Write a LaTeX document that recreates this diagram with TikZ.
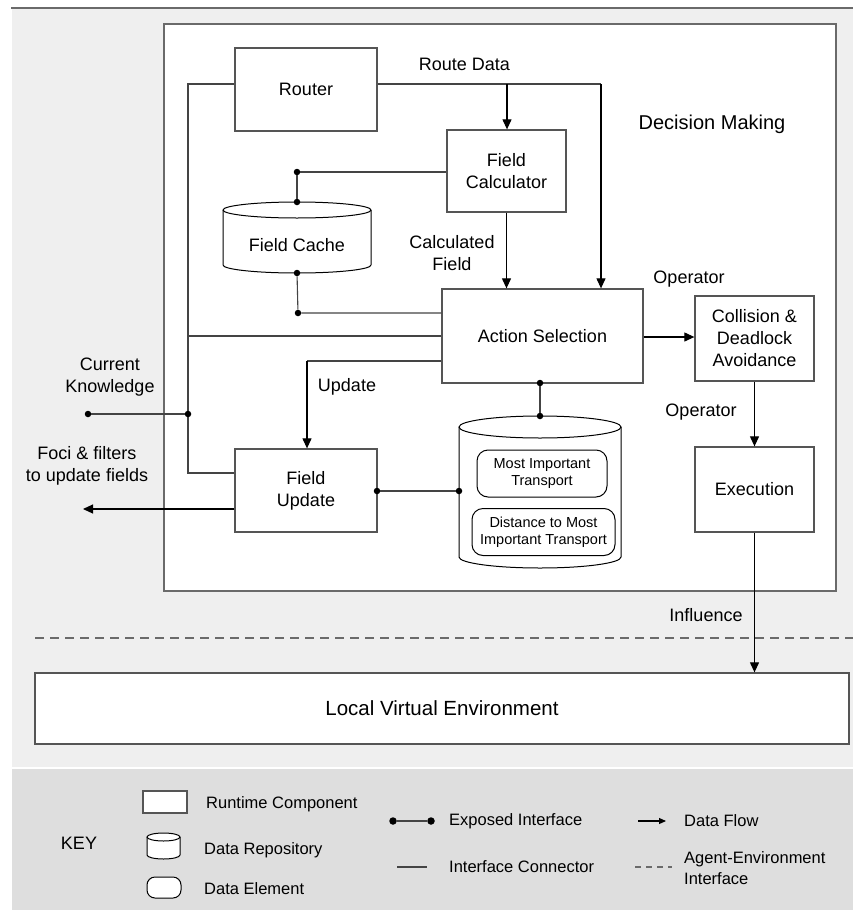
\documentclass[tikz,border=0pt]{standalone}
\usepackage{fontspec}
\setmainfont{Liberation Sans}
\usetikzlibrary{arrows.meta,calc}
\definecolor{bglight}{HTML}{EFEFEF}
\definecolor{bgkey}{HTML}{DEDEDE}
\definecolor{edgec}{HTML}{555555}
\definecolor{wirec}{HTML}{444444}
\definecolor{rulec}{HTML}{6A6A6A}

\tikzset{
  comp/.style={draw=edgec, line width=1.3pt, fill=white, inner sep=0pt, align=center,
               font=\fontsize{18}{22}\selectfont},
  delem/.style={draw=black, line width=1pt, fill=white, rounded corners=11pt, inner sep=0pt,
                align=center, font=\fontsize{14.5}{17}\selectfont},
  cylline/.style={draw=black, line width=1pt},
  wire/.style={draw=wirec, line width=1.1pt},
  flow/.style={draw=black, line width=1.1pt, -{Triangle[length=10pt,width=9pt]}},
  dot/.style={circle, fill=black, inner sep=0pt, minimum size=6.5pt},
  lbl/.style={inner sep=0pt, align=center, font=\fontsize{18}{22}\selectfont},
  keytext/.style={inner sep=0pt, anchor=west, align=left, font=\fontsize{16.5}{21}\selectfont},
}

\begin{document}
\begin{tikzpicture}[x=1pt,y=-1pt]
\useasboundingbox (0,0) rectangle (853,910);

% backgrounds
\fill[bglight] (12,7) rectangle (853,767);
\draw[rulec, line width=2pt] (11,7.5) -- (853,7.5);
\fill[white] (12,767) rectangle (853,769);
\fill[bgkey] (12,769) rectangle (853,910);

% decision making frame
\node[draw=rulec, line width=1.5pt, fill=white, inner sep=0pt,
      minimum width=672pt, minimum height=567pt] (dm) at (500,307.5) {};
\node[lbl, font=\fontsize{20}{24}\selectfont] (dmlabel) at (712,124) {Decision Making};

% runtime components
\node[comp, minimum width=142pt, minimum height=83pt] (router) at (306,89.5) {Router};
\node[comp, minimum width=119pt, minimum height=82pt] (fcalc) at (506.5,171) {Field\\Calculator};
\node[comp, minimum width=201pt, minimum height=94pt] (act) at (542.5,336) {Action Selection};
\node[comp, minimum width=119pt, minimum height=85pt] (coll) at (754.5,338.5) {Collision \&\\Deadlock\\Avoidance};
\node[comp, minimum width=119pt, minimum height=85pt] (exec) at (754.5,489.5) {Execution};
\node[comp, minimum width=142pt, minimum height=83pt] (fupd) at (306,490.5) {Field\\Update};
\node[comp, minimum width=814pt, minimum height=71pt, font=\fontsize{20.5}{24}\selectfont] (lve) at (442,708.5) {Local Virtual Environment};

% field cache repository
\fill[white] (223,210) -- (223,265) arc[start angle=180,end angle=360,x radius=74pt,y radius=8pt] -- (371,210) -- cycle;
\draw[cylline] (223,210) -- (223,265) arc[start angle=180,end angle=360,x radius=74pt,y radius=8pt] -- (371,210);
\draw[cylline, fill=white] (297,210) ellipse[x radius=74pt, y radius=8pt];
\node[lbl] (fcache) at (297,245) {Field Cache};

% transport repository
\fill[white] (459,427) -- (459,557) arc[start angle=180,end angle=360,x radius=81pt,y radius=11pt] -- (621,427) -- cycle;
\draw[cylline] (459,427) -- (459,557) arc[start angle=180,end angle=360,x radius=81pt,y radius=11pt] -- (621,427);
\draw[cylline, fill=white] (540,427) ellipse[x radius=81pt, y radius=11pt];
\node[delem, minimum width=130pt, minimum height=47pt] (mit) at (542,473.5) {Most Important\\Transport};
\node[delem, minimum width=143pt, minimum height=47pt] (dist) at (543.5,532) {Distance to Most\\Important Transport};

% labels
\node[lbl] (rdlabel) at (464.5,64) {Route Data};
\node[lbl] (cflabel) at (452,253) {Calculated\\Field};
\node[lbl] (op1) at (689,279) {Operator};
\node[lbl] (op2) at (701,412) {Operator};
\node[lbl] (uplabel) at (347,387) {Update};
\node[lbl] (cklabel) at (110,377) {Current\\Knowledge};
\node[lbl] (focilabel) at (87,466) {Foci \& filters\\to update fields};
\node[lbl] (inflabel) at (706,615) {Influence};

% agent-environment boundary
\draw[rulec, line width=1.3pt, dash pattern=on 9pt off 6pt] (35,638) -- (853,638);

% knowledge bus
\coordinate (busTop) at (188,84);
\coordinate (busBot) at (188,473);
\draw[wire] ([yshift=5.5pt]router.west) -- (busTop) -- (busBot) -- (fupd.west |- busBot);
\draw[wire] (busTop |- act.west) -- (act.west);
\node[dot] (ckIn) at (88,414) {};
\node[dot] (ckJ) at (188,414) {};
\draw[wire] (ckIn) -- (ckJ);

% route data
\coordinate (rdR) at (601,84);
\coordinate (rdM) at (507,84);
\draw[wire] ([yshift=5.5pt]router.east) -- (rdR);
\draw[flow] (rdR) -- (rdR |- act.north);
\draw[flow] (rdM) -- (rdM |- fcalc.north);
\draw[flow] (fcalc.south) -- (fcalc.south |- act.north);

% field cache interfaces
\node[dot] (fcJ) at (297,172) {};
\node[dot] (fcTop) at (297,202) {};
\node[dot] (fcBot) at (297,273) {};
\node[dot] (asJ) at (298,313) {};
\draw[wire] (fcalc.west |- fcJ) -- (fcJ) -- (fcTop);
\draw[wire] (fcBot) -- (asJ) -- (asJ -| act.west);

% update flow
\coordinate (upC) at (307,361);
\draw[wire] ([yshift=-25pt]act.west) -- (upC);
\draw[flow] (upC) -- (upC |- fupd.north);

% operator chain
\draw[flow] (act.east |- 0,337) -- (coll.west |- 0,337);
\draw[flow] (coll.south) -- (exec.north);
\draw[flow] (exec.south) -- (exec.south |- lve.north);

% transport repository interfaces
\node[dot] (asS) at (540,383) {};
\node[dot] (rpT) at (540,416) {};
\draw[wire] (asS) -- (rpT);
\node[dot] (fuE) at (377,491) {};
\node[dot] (rpL) at (459,491) {};
\draw[wire] (fuE) -- (rpL);

% foci output
\coordinate (fociEnd) at (83,509);
\draw[flow] ([yshift=-18.5pt]fupd.west) -- (fociEnd);

% key
\node[lbl, font=\fontsize{18}{22}\selectfont] (keylabel) at (79,843) {KEY};
\node[draw=edgec, line width=1.1pt, fill=white, minimum width=44pt, minimum height=22pt, inner sep=0pt] (kRect) at (165,802) {};
\node[keytext] (kRectT) at (206,804) {Runtime Component};
\fill[white] (147,837) -- (147,855) arc[start angle=180,end angle=360,x radius=16.5pt,y radius=4pt] -- (180,837) -- cycle;
\draw[cylline] (147,837) -- (147,855) arc[start angle=180,end angle=360,x radius=16.5pt,y radius=4pt] -- (180,837);
\draw[cylline, fill=white] (163.5,837) ellipse[x radius=16.5pt, y radius=4pt];
\node[keytext] (kCylT) at (204,850) {Data Repository};
\node[draw=black, line width=1pt, fill=white, rounded corners=8pt, minimum width=34pt, minimum height=21pt, inner sep=0pt] (kElem) at (164,887.5) {};
\node[keytext] (kElemT) at (204,889) {Data Element};
\node[dot, minimum size=7.5pt] (kDotA) at (393,821) {};
\node[dot, minimum size=7.5pt] (kDotB) at (431,821) {};
\draw[wire] (kDotA) -- (kDotB);
\node[keytext] (kExpT) at (449,821) {Exposed Interface};
\coordinate (kConA) at (397,867);
\coordinate (kConB) at (427,867);
\draw[wire] (kConA) -- (kConB);
\node[keytext] (kConT) at (449,867) {Interface Connector};
\coordinate (kFlowA) at (638,821);
\coordinate (kFlowB) at (666,821);
\draw[draw=black, line width=1.1pt, -{Triangle[length=7pt,width=6pt]}] (kFlowA) -- (kFlowB);
\node[keytext] (kFlowT) at (684,821) {Data Flow};
\coordinate (kDashA) at (635,867);
\coordinate (kDashB) at (672,867);
\draw[rulec, line width=1.2pt, dash pattern=on 6pt off 5pt] (kDashA) -- (kDashB);
\node[keytext] (kDashT) at (684,868.5) {Agent-Environment\\Interface};
\end{tikzpicture}
\end{document}
